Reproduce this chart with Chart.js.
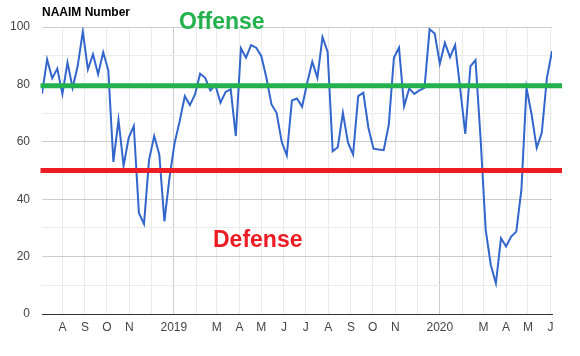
<!DOCTYPE html>
<html>
<head>
<meta charset="utf-8">
<script src="https://cdn.jsdelivr.net/npm/chart.js@4"></script>
<style>
html,body{margin:0;padding:0;background:#fff;}
#wrap{width:580px;height:356px;position:relative;}
</style>
</head>
<body>
<div id="wrap"><canvas id="c" width="580" height="356"></canvas></div>
<script>
// ---- data (weekly NAAIM readings, Wednesdays) ----
const firstWeek = '2018-07-04';
const naaim = [
  76.7, 88.7, 82.1, 85.5, 76.7, 87.6, 78.8, 86.4, 98.4, 85.2,
  90.5, 83.5, 91.2, 84.9, 53.0, 67.6, 51.7, 61.4, 65.5, 35.2,
  31.4, 53.8, 62.0, 55.6, 32.3, 47.5, 59.6, 67.2, 75.9, 72.8,
  76.5, 83.7, 82.3, 77.9, 79.7, 73.6, 77.4, 78.3, 62.0, 92.6,
  89.3, 93.7, 92.8, 89.9, 82.3, 73.0, 70.1, 60.0, 55.3, 74.4,
  75.1, 72.2, 80.6, 87.9, 82.3, 96.5, 91.4, 56.7, 58.1, 70.1,
  59.7, 55.6, 75.9, 77.1, 64.9, 57.6, 57.3, 57.1, 66.0, 89.3,
  92.8, 72.4, 78.6, 76.7, 77.9, 78.8, 99.2, 97.7, 87.2, 94.5,
  89.5, 93.7, 78.5, 62.8, 86.3, 88.5, 61.0, 29.3, 17.1, 10.7,
  26.4, 23.5, 27.0, 28.7, 43.3, 78.8, 69.5, 57.9, 63.1, 82.3,
  91.6
];
const tickMonths = [
  '2018-08-01','2018-09-01','2018-10-01','2018-11-01','2018-12-01',
  '2019-01-01','2019-02-01','2019-03-01','2019-04-01','2019-05-01','2019-06-01',
  '2019-07-01','2019-08-01','2019-09-01','2019-10-01','2019-11-01','2019-12-01',
  '2020-01-01','2020-02-01','2020-03-01','2020-04-01','2020-05-01','2020-06-01'
];
const tickLabels = ['A','S','O','N','','2019','','M','A','M','J','J','A','S','O','N','','2020','','M','A','M','J'];
const yearLabels = ['2019','2020'];
const offenseLevel = 79.5;
const defenseLevel = 50;
const chartTitle = 'NAAIM Number';
const offenseText = 'Offense';
const defenseText = 'Defense';

// ---- helpers ----
const DAY = 86400000;
function dayNum(s){ const p = s.split('-').map(Number); return Date.UTC(p[0], p[1]-1, p[2]) / DAY; }
const start = dayNum(firstWeek);
const points = naaim.map((v, i) => ({ x: start + i * 7, y: v }));
const tickDays = tickMonths.map(dayNum);

const FONT = '"Liberation Sans", Arial, sans-serif';

const overlay = {
  id: 'overlay',
  afterDatasetsDraw(chart) {
    const ctx = chart.ctx, a = chart.chartArea, ys = chart.scales.y;
    ctx.save();
    // level lines
    ctx.lineWidth = 5;
    ctx.lineCap = 'butt';
    ctx.strokeStyle = '#22b14c';
    let y = ys.getPixelForValue(offenseLevel);
    ctx.beginPath(); ctx.moveTo(a.left - 1.5, y); ctx.lineTo(a.right + 10, y); ctx.stroke();
    ctx.strokeStyle = '#ed1c24';
    y = ys.getPixelForValue(defenseLevel);
    ctx.beginPath(); ctx.moveTo(a.left - 1.5, y); ctx.lineTo(a.right + 10, y); ctx.stroke();
    // texts
    ctx.textBaseline = 'alphabetic';
    ctx.textAlign = 'left';
    ctx.font = 'bold 23px ' + FONT;
    ctx.fillStyle = '#22b14c';
    ctx.fillText(offenseText, 179, 28.5);
    ctx.fillStyle = '#ed1c24';
    ctx.fillText(defenseText, 213, 246.5);
    // title
    ctx.font = 'bold 12px ' + FONT;
    ctx.fillStyle = '#000';
    ctx.fillText(chartTitle, 42, 16);
    ctx.restore();
  }
};

new Chart(document.getElementById('c'), {
  type: 'line',
  data: {
    datasets: [{
      data: points,
      borderColor: '#3366cc',
      borderWidth: 2,
      pointRadius: 0,
      tension: 0,
      fill: false
    }]
  },
  options: {
    responsive: false,
    animation: false,
    events: [],
    layout: { padding: { top: 27, right: 28, left: 0, bottom: 0 } },
    plugins: { legend: { display: false }, tooltip: { enabled: false }, title: { display: false } },
    scales: {
      x: {
        type: 'linear',
        min: points[0].x,
        max: points[points.length - 1].x,
        afterBuildTicks: s => { s.ticks = tickDays.map(v => ({ value: v })); },
        afterFit: s => { s.height = 42; },
        ticks: {
          autoSkip: false,
          maxRotation: 0,
          padding: 6,
          color: '#444',
          font: { family: FONT, size: 12 },
          callback: (v, i) => tickLabels[i]
        },
        grid: {
          drawTicks: false,
          color: c => (c.index !== undefined && yearLabels.includes(tickLabels[c.index])) ? '#cccccc' : '#ebebeb'
        },
        border: { display: true, color: '#333333', width: 1 }
      },
      y: {
        min: 0,
        max: 100,
        afterFit: s => { s.width = 42; },
        ticks: {
          stepSize: 10,
          padding: 12,
          color: '#444',
          font: { family: FONT, size: 12 },
          callback: v => (v % 20 === 0 ? v : '')
        },
        grid: {
          drawTicks: false,
          color: c => (c.tick && c.tick.value % 20 === 0) ? '#cccccc' : '#ebebeb'
        },
        border: { display: false }
      }
    }
  },
  plugins: [overlay]
});
</script>
</body>
</html>
